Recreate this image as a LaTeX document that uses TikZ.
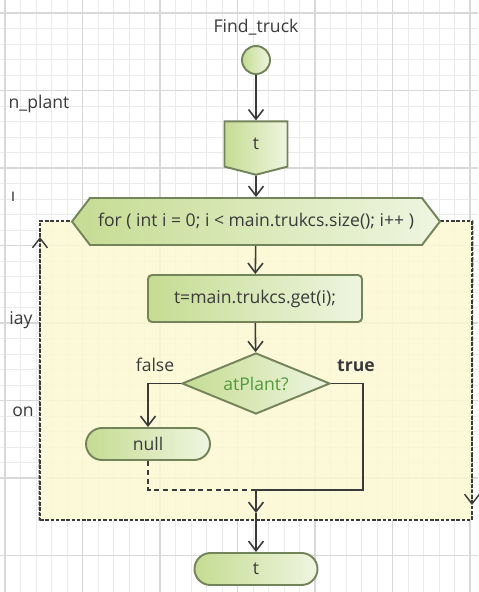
\documentclass[tikz,border=0pt]{standalone}
\usepackage{fontspec}
\setmainfont{Open Sans}
\usetikzlibrary{shapes.geometric,shapes.symbols,arrows.meta}

\definecolor{nodegreen}{HTML}{C5DC92}
\definecolor{nodelight}{HTML}{EFF5E0}
\definecolor{nodeline}{HTML}{74845A}
\definecolor{loopyellow}{HTML}{FCF8D2}
\definecolor{gridminor}{HTML}{EBEBEB}
\definecolor{gridmajor}{HTML}{D8D8D8}
\definecolor{textgray}{HTML}{3A3A3A}
\definecolor{condgreen}{HTML}{4F9B3A}

\def\px{0.02cm}
\def\gridstep{15.5}

\tikzset{
  block/.style={draw=nodeline, line width=1.1pt, left color=nodegreen,
    right color=nodelight, text=textgray, inner sep=0pt,
    font=\fontsize{10}{12}\selectfont},
  flow/.style={draw=textgray, line width=0.9pt,
    -{Straight Barb[length=5.5pt,width=8.5pt]}},
  link/.style={draw=textgray, line width=0.9pt},
  side/.style={text=textgray, font=\fontsize{10}{12}\selectfont},
}

\begin{document}
\begin{tikzpicture}[x=\px, y=-\px]
  \useasboundingbox (0,0) rectangle (478,592);
  \fill[white] (0,0) rectangle (478,592);

  % background grid
  \foreach \i in {0,...,31} {
    \draw[gridminor, line width=0.4pt] (5+\i*\gridstep,0) -- (5+\i*\gridstep,592);
    \draw[gridminor, line width=0.4pt] (0,13+\i*\gridstep-\gridstep) -- (478,13+\i*\gridstep-\gridstep);
  }
  \foreach \i in {0,...,6} {
    \draw[gridmajor, line width=0.6pt] (5+\i*5*\gridstep,0) -- (5+\i*5*\gridstep,592);
  }
  \foreach \i in {0,...,7} {
    \draw[gridmajor, line width=0.6pt] (0,13+\i*5*\gridstep) -- (478,13+\i*5*\gridstep);
  }

  % loop body
  \node[draw=textgray, dashed, dash pattern=on 2pt off 1pt, line width=0.8pt,
    fill=loopyellow, fill opacity=0.85, draw opacity=1,
    minimum width=432*\px, minimum height=299*\px, inner sep=0pt]
    (loopbody) at (256,370.5) {};
  \coordinate (backup) at (40,237);
  \coordinate (backdown) at (472,505);
  \draw[flow, dash pattern=on 2pt off 1pt, line width=0.8pt] (loopbody.south west) -- (backup);
  \draw[flow, dash pattern=on 2pt off 1pt, line width=0.8pt] (loopbody.north east) -- (backdown);

  % side labels
  \node[side] (lblplant) at (39,104) {n\_plant};
  \node[side] (lblh) at (13,197) {ı};
  \node[side] (lblway) at (21,320) {iay};
  \node[side] (lblon) at (23,412) {on};

  % flowchart
  \node[side] (title) at (256,27) {Find\_truck};
  \node[block, circle, minimum size=28*\px] (start) at (256,60) {};
  \node[block, signal, signal to=south, signal pointer angle=151,
    minimum width=63*\px, minimum height=46*\px] (tval) at (256,144) {t};
  \node[block, signal, signal to=east and west, signal pointer angle=105,
    minimum width=368*\px, minimum height=47*\px] (loop) at (256,221.5)
    {for ( int i = 0; i < main.trukcs.size(); i++ )};
  \node[block, rectangle, rounded corners=4*\px,
    minimum width=214*\px, minimum height=47*\px] (getbox) at (255,298.5)
    {t=main.trukcs.get(i);};
  \node[block, diamond, aspect=2.4, text=condgreen,
    minimum width=148*\px, minimum height=61*\px] (cond) at (256,383.5) {atPlant?};
  \node[block, rectangle, rounded corners=16*\px,
    minimum width=124*\px, minimum height=32*\px] (nullnode) at (148,444) {null};
  \node[block, rectangle, rounded corners=16*\px,
    minimum width=123*\px, minimum height=32*\px] (result) at (256,569) {t};

  \node[side, anchor=south] (lblfalse) at (155,378) {false};
  \node[side, anchor=south, font=\bfseries\fontsize{10}{12}\selectfont] (lbltrue) at (356,378) {true};

  \coordinate (merge) at (256,490);
  \coordinate (trueturn) at (363,490);
  \coordinate (loopexit) at (256,513);

  \draw[flow] (start) -- (tval);
  \draw[flow] (tval) -- (loop);
  \draw[flow] (loop) -- (getbox);
  \draw[flow] (getbox) -- (cond);
  \draw[flow] (cond.west) -| (nullnode.north);
  \draw[link] (cond.east) -| (trueturn) -- (merge);
  \draw[link, dashed, dash pattern=on 3pt off 2pt, line width=0.7pt] (nullnode.south) |- (merge);
  \draw[flow] (merge) -- (loopexit);
  \draw[flow] (loopexit) -- (result);
\end{tikzpicture}
\end{document}
